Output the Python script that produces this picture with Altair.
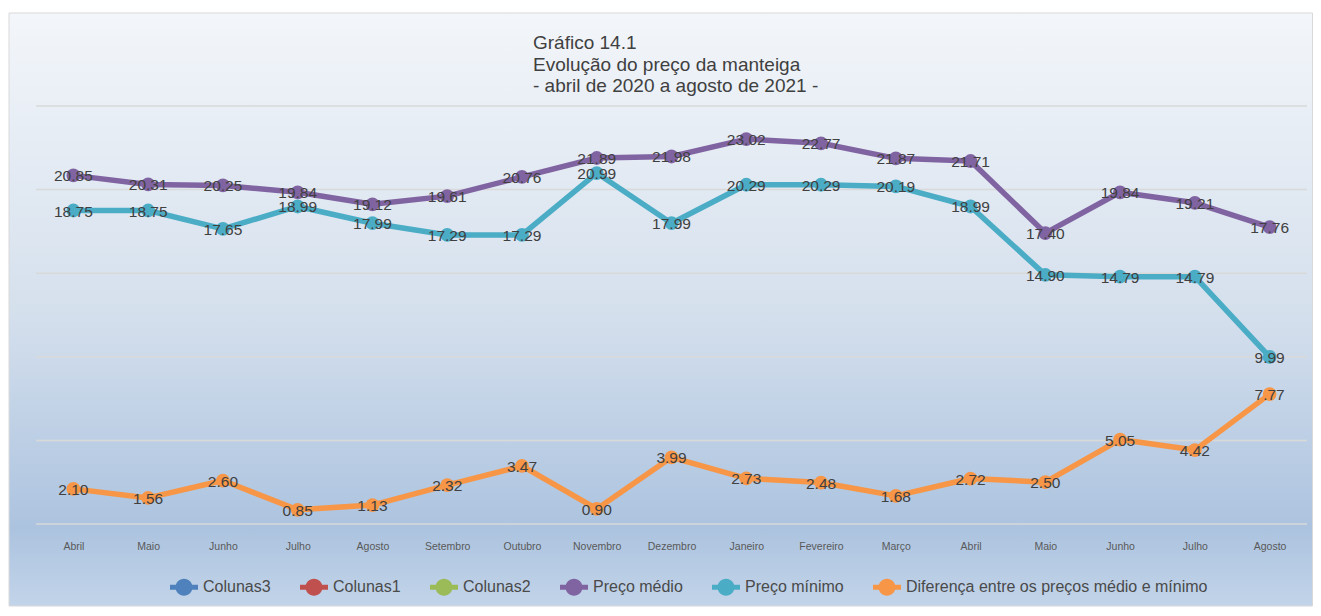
import json
import altair as alt
import pandas as pd

# ---- data ----
months = ["Abril", "Maio", "Junho", "Julho", "Agosto", "Setembro", "Outubro",
          "Novembro", "Dezembro", "Janeiro", "Fevereiro", "Março", "Abril",
          "Maio", "Junho", "Julho", "Agosto"]
preco_medio = [20.85, 20.31, 20.25, 19.84, 19.12, 19.61, 20.76, 21.89, 21.98,
               23.02, 22.77, 21.87, 21.71, 17.40, 19.84, 19.21, 17.76]
preco_minimo = [18.75, 18.75, 17.65, 18.99, 17.99, 17.29, 17.29, 20.99, 17.99,
                20.29, 20.29, 20.19, 18.99, 14.90, 14.79, 14.79, 9.99]
diferenca = [2.10, 1.56, 2.60, 0.85, 1.13, 2.32, 3.47, 0.90, 3.99,
             2.73, 2.48, 1.68, 2.72, 2.50, 5.05, 4.42, 7.77]
series_names = ["Colunas3", "Colunas1", "Colunas2", "Preço médio",
                "Preço mínimo", "Diferença entre os preços médio e mínimo"]
series_colors = ["#4f81bd", "#c0504d", "#9bbb59", "#8064a2", "#4bacc6", "#f79646"]
title_lines = ["Gráfico 14.1", "Evolução do preço da manteiga",
               "- abril de 2020 a agosto de 2021 -"]
y_ticks = [0, 5, 10, 15, 20, 25]

rows = []
for name, vals in [(series_names[3], preco_medio),
                   (series_names[4], preco_minimo),
                   (series_names[5], diferenca)]:
    for i, v in enumerate(vals):
        rows.append({"idx": i, "serie": name, "valor": v})
df = pd.DataFrame(rows)

W, H = 1271, 418
FONT = "Liberation Sans"
label_expr = json.dumps(months, ensure_ascii=False) + "[datum.value]"

x_enc = alt.X(
    "idx:O",
    scale=alt.Scale(type="point", padding=0.5),
    axis=alt.Axis(title=None, labelExpr=label_expr, labelAngle=0, domain=False,
                  ticks=False, tickSize=0, labelPadding=17, labelFontSize=10.5,
                  labelColor="#595959", labelFont=FONT, grid=False,
                  labelOverlap=False, zindex=1),
)
y_scale = alt.Scale(domain=[0, 25], nice=False, zero=True)
y_enc = alt.Y("valor:Q", scale=y_scale, axis=None)
color_scale = alt.Scale(domain=series_names, range=series_colors)
stroke_scale = alt.Scale(domain=series_names[3:], range=series_colors[3:])

legend_symbol = ("M -1 -0.18 L 1 -0.18 L 1 0.18 L -1 0.18 Z "
                 "M 0.607 0 A 0.607 0.607 0 1 1 -0.607 0 A 0.607 0.607 0 1 1 0.607 0 Z")

legend = alt.Legend(
    title=None, orient="none", direction="horizontal", columns=6,
    legendX=134, legendY=467, padding=0, columnPadding=29, labelOffset=5,
    labelFontSize=16, labelFont=FONT, labelColor="#4a4a4a", labelLimit=500,
    symbolType=legend_symbol, symbolSize=784, symbolStrokeWidth=0,
    symbolOpacity=1, zindex=1,
)

background = alt.Chart(pd.DataFrame({"a": [0]})).mark_rect(
    fill={"gradient": "linear", "x1": 0, "y1": 0, "x2": 0, "y2": 1,
          "stops": [{"offset": 0, "color": "#f3f6fa"},
                    {"offset": 0.5, "color": "#d5e0ed"},
                    {"offset": 0.87, "color": "#acc3df"},
                    {"offset": 1, "color": "#c2d4e9"}]},
    stroke="#d9d9d9", strokeWidth=1,
).encode(
    x=alt.value(-27), x2=alt.value(W + 5.5),
    y=alt.value(-93), y2=alt.value(H + 82),
)

grid = alt.Chart(pd.DataFrame({"v": y_ticks})).mark_rule(
    color="#d9d9d9", strokeWidth=1.5
).encode(y=alt.Y("v:Q", scale=y_scale, axis=None))

title = alt.Chart(pd.DataFrame({"t": ["\n".join(title_lines)]})).mark_text(
    align="left", baseline="alphabetic", fontSize=19, font=FONT,
    color="#404040", lineBreak="\n", lineHeight=21.5,
).encode(x=alt.value(497), y=alt.value(-57), text="t:N")

base = alt.Chart(df)

lines = base.mark_line(strokeWidth=5.5, strokeCap="round", strokeJoin="round").encode(
    x=x_enc, y=y_enc,
    stroke=alt.Stroke("serie:N", scale=stroke_scale, legend=None),
)
points = base.mark_circle(size=190, opacity=1).encode(
    x=x_enc, y=y_enc,
    color=alt.Color("serie:N", scale=color_scale, legend=legend),
)
labels = base.mark_text(fontSize=15.5, font=FONT, color="#404040",
                        baseline="middle", align="center", dy=1).encode(
    x=x_enc, y=y_enc,
    text=alt.Text("valor:Q", format=".2f"),
)

chart = alt.layer(background, grid, title, lines, points, labels).properties(
    width=W, height=H,
    padding={"left": 0, "top": 4, "right": 0, "bottom": 0},
).configure_view(stroke=None)

chart.save("out.html", embed_options={"renderer": "svg", "actions": False})
